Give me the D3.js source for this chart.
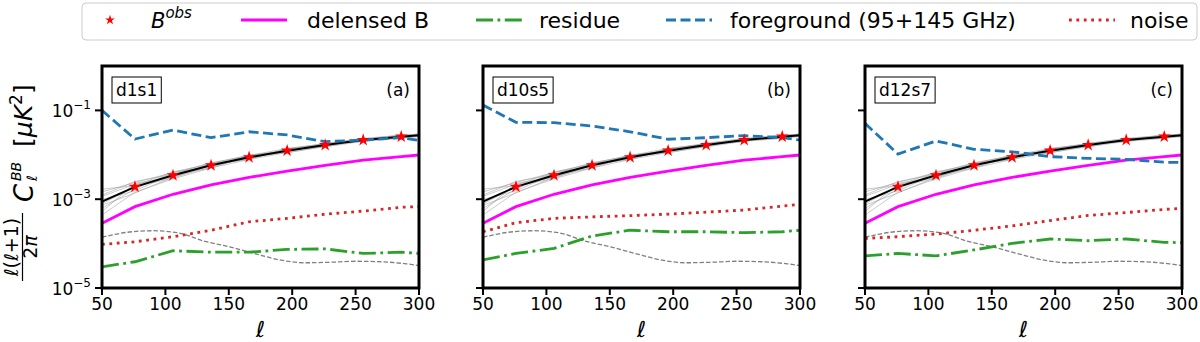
<!DOCTYPE html>
<html>
<head>
<meta charset="utf-8">
<script src="https://cdn.jsdelivr.net/npm/d3@7"></script>
<style>
  body { margin: 0; background: #fff; }
  svg { font-family: "DejaVu Sans", sans-serif; }
</style>
</head>
<body>
<svg id="chart"></svg>
<script>
// multipole points of the binned curves
const ells = [50, 76, 106, 136, 166, 196, 226, 256, 286, 300];
const binEll = [76, 106, 136, 166, 196, 226, 256, 286];

// shared across the three panels
const obsMean = [8.8e-4, 1.9e-3, 3.45e-3, 5.8e-3, 8.8e-3, 1.24e-2, 1.66e-2, 2.15e-2, 2.56e-2, 2.75e-2];
const bObs = [1.9e-3, 3.45e-3, 5.8e-3, 8.8e-3, 1.24e-2, 1.66e-2, 2.15e-2, 2.56e-2];
const delensed = [2.86e-4, 6.8e-4, 1.29e-3, 2.09e-3, 3.1e-3, 4.3e-3, 5.8e-3, 7.6e-3, 9.06e-3, 9.9e-3];

// thin grey dashed reference curve
const refEll = [50, 70, 90, 110, 130, 150, 170, 190, 210, 230, 250, 270, 290, 300];
const refVal = [1.39e-4, 1.8e-4, 1.95e-4, 1.75e-4, 1.15e-4, 8.5e-5, 6.0e-5, 4.3e-5, 3.7e-5, 3.8e-5, 4.0e-5, 3.9e-5, 3.5e-5, 3.2e-5];

// simulation realisations, read as offsets (dex) from the mean
const realOffsets = [
  [0.22, 0.10, 0.06, 0.05, 0.04, 0.05, 0.03, 0.04, 0.03, 0.03],
  [-0.30, -0.12, -0.08, -0.06, -0.05, -0.04, -0.04, -0.03, -0.04, -0.03],
  [0.12, 0.06, -0.05, 0.04, -0.03, 0.03, 0.02, -0.03, 0.02, 0.01],
  [-0.15, -0.05, 0.07, -0.03, 0.05, -0.03, 0.04, 0.03, -0.03, 0.02],
  [0.05, -0.09, 0.03, 0.06, 0.02, -0.05, -0.02, 0.02, 0.03, -0.03],
  [-0.22, 0.08, -0.03, -0.05, 0.03, 0.02, -0.03, 0.03, -0.02, 0.02],
  [0.28, 0.03, 0.08, 0.02, -0.05, 0.04, 0.03, -0.02, 0.01, 0.03],
  [-0.08, -0.14, -0.04, 0.03, 0.05, -0.02, 0.01, -0.03, 0.02, -0.02],
  [0.15, 0.12, 0.02, -0.06, 0.02, 0.01, -0.04, 0.01, 0.04, 0.01],
  [-0.05, 0.01, -0.07, 0.01, -0.04, 0.04, 0.02, -0.01, -0.03, -0.01]
];

// per panel
const panelNames = ["d1s1", "d10s5", "d12s7"];
const panelTags = ["(a)", "(b)", "(c)"];
const foreground = [
  [0.1, 0.0227, 0.036, 0.0243, 0.033, 0.028, 0.0198, 0.0215, 0.0245, 0.021],
  [0.132, 0.054, 0.053, 0.0446, 0.033, 0.0224, 0.0243, 0.027, 0.0243, 0.0215],
  [0.051, 0.0104, 0.0205, 0.0133, 0.0117, 0.0091, 0.0083, 0.0079, 0.0068, 0.0067]
];
const residue = [
  [3.0e-5, 3.9e-5, 6.9e-5, 6.4e-5, 6.4e-5, 7.4e-5, 7.6e-5, 6.0e-5, 6.4e-5, 6.0e-5],
  [4.3e-5, 6.0e-5, 7.8e-5, 1.48e-4, 2.0e-4, 1.85e-4, 1.85e-4, 1.76e-4, 1.85e-4, 2.0e-4],
  [5.3e-5, 6.0e-5, 5.3e-5, 7.2e-5, 1.01e-4, 1.27e-4, 1.16e-4, 1.27e-4, 1.07e-4, 1.05e-4]
];
const noise = [
  [9.6e-5, 1.1e-4, 1.43e-4, 2.0e-4, 3.1e-4, 3.7e-4, 4.6e-4, 5.4e-4, 6.6e-4, 6.8e-4],
  [1.85e-4, 2.95e-4, 3.7e-4, 4.0e-4, 4.27e-4, 4.6e-4, 5.1e-4, 5.7e-4, 7.0e-4, 7.7e-4],
  [1.31e-4, 1.43e-4, 1.64e-4, 2.0e-4, 2.5e-4, 3.3e-4, 4.3e-4, 5.0e-4, 5.9e-4, 6.2e-4]
];

const xTicks = [50, 100, 150, 200, 250, 300];
const yTicks = [1e-5, 1e-3, 1e-1];
const yTickExp = ["\u22125", "\u22123", "\u22121"];

const colors = {
  delensed: "#ff00ff", residue: "#2ca02c", foreground: "#1f77b4",
  noise: "#d62728", star: "#ff0000"
};
const dashes = { residue: "17,4.5,2.8,4.5", foreground: "10,4.5", noise: "2.8,4.6" };
const lw = 2.8;

const width = 1200, height = 342;
const svg = d3.select("#chart").attr("width", width).attr("height", height);

const panelLeft = [102, 483, 865];
const panelW = 317;
const plotTop = 66, plotBottom = 288;

const yScale = d3.scaleLog().domain([1e-5, 1]).range([plotBottom, plotTop]);

panelLeft.forEach((x0, p) => {
  const xScale = d3.scaleLinear().domain([50, 300]).range([x0, x0 + panelW]);
  const g = svg.append("g");

  g.append("clipPath").attr("id", "clip" + p)
    .append("rect").attr("x", x0).attr("y", plotTop).attr("width", panelW).attr("height", plotBottom - plotTop);
  const plot = g.append("g").attr("clip-path", `url(#clip${p})`);

  const line = d3.line().x((d, i) => xScale(ells[i])).y(d => yScale(d));

  // realisations
  realOffsets.forEach(off => {
    plot.append("path")
      .attr("d", line(obsMean.map((v, i) => v * Math.pow(10, off[i]))))
      .attr("fill", "none").attr("stroke", "#a0a0a0").attr("stroke-width", 1).attr("opacity", 0.55);
  });

  // grey reference curve
  plot.append("path")
    .attr("d", d3.line().curve(d3.curveMonotoneX)
      .x((d, i) => xScale(refEll[i])).y(d => yScale(d))(refVal))
    .attr("fill", "none").attr("stroke", "#808080").attr("stroke-width", 1.3)
    .attr("stroke-dasharray", "4.5,2");

  plot.append("path").attr("d", line(noise[p]))
    .attr("fill", "none").attr("stroke", colors.noise).attr("stroke-width", lw)
    .attr("stroke-dasharray", dashes.noise);
  plot.append("path").attr("d", line(residue[p]))
    .attr("fill", "none").attr("stroke", colors.residue).attr("stroke-width", lw)
    .attr("stroke-dasharray", dashes.residue);
  plot.append("path").attr("d", line(delensed))
    .attr("fill", "none").attr("stroke", colors.delensed).attr("stroke-width", lw);
  plot.append("path").attr("d", line(obsMean))
    .attr("fill", "none").attr("stroke", "#000").attr("stroke-width", 2);
  plot.append("path").attr("d", line(foreground[p]))
    .attr("fill", "none").attr("stroke", colors.foreground).attr("stroke-width", lw)
    .attr("stroke-dasharray", dashes.foreground);

  plot.selectAll(".star").data(bObs).join("path")
    .attr("transform", (d, i) => `translate(${xScale(binEll[i])},${yScale(d)})`)
    .attr("d", d3.symbol(d3.symbolStar, 50)())
    .attr("fill", colors.star);

  // frame
  g.append("rect").attr("x", x0).attr("y", plotTop).attr("width", panelW).attr("height", plotBottom - plotTop)
    .attr("fill", "none").attr("stroke", "#000").attr("stroke-width", 3);

  // x axis
  xTicks.forEach(t => {
    g.append("line").attr("x1", xScale(t)).attr("x2", xScale(t))
      .attr("y1", plotBottom).attr("y2", plotBottom + 7).attr("stroke", "#000").attr("stroke-width", 2);
    g.append("text").attr("x", xScale(t)).attr("y", 310).attr("text-anchor", "middle")
      .style("font-size", "17px").text(t);
  });
  g.append("text").attr("x", x0 + panelW / 2).attr("y", 337).attr("text-anchor", "middle")
    .style("font-size", "22px").style("font-style", "italic").text("\u2113");

  // y axis
  yTicks.forEach((t, i) => {
    g.append("line").attr("x1", x0 - 7).attr("x2", x0).attr("y1", yScale(t)).attr("y2", yScale(t))
      .attr("stroke", "#000").attr("stroke-width", 2);
    if (p === 0) {
      const lab = g.append("text").attr("x", 91).attr("y", yScale(t) + 7).attr("text-anchor", "end")
        .style("font-size", "17px");
      lab.append("tspan").text("10");
      lab.append("tspan").attr("dy", -8).style("font-size", "12px").text(yTickExp[i]);
    }
  });

  // panel labels
  const nameText = g.append("text").attr("x", x0 + 14).attr("y", 96)
    .style("font-size", "17px").text(panelNames[p]);
  const bb = nameText.node().getBBox();
  g.insert("rect", "text").attr("x", bb.x - 4).attr("y", 77).attr("width", bb.width + 8).attr("height", 26)
    .attr("fill", "#fff").attr("stroke", "#000").attr("stroke-width", 1);
  g.append("text").attr("x", x0 + panelW - 9).attr("y", 96).attr("text-anchor", "end")
    .style("font-size", "17px").text(panelTags[p]);
});

// y label (rotated): u runs up the page, v runs to the right
const yl = svg.append("g").attr("transform", "translate(33,181) rotate(-90)");
const num = yl.append("text").attr("x", -66).attr("y", -15).attr("text-anchor", "middle").style("font-size", "19px");
num.append("tspan").style("font-style", "italic").text("\u2113");
num.append("tspan").text("(");
num.append("tspan").style("font-style", "italic").text("\u2113");
num.append("tspan").text("+1)");
yl.append("line").attr("x1", -100).attr("x2", -32).attr("y1", -10.5).attr("y2", -10.5)
  .attr("stroke", "#000").attr("stroke-width", 1.2);
const den = yl.append("text").attr("x", -66).attr("y", 4).attr("text-anchor", "middle").style("font-size", "19px");
den.append("tspan").text("2");
den.append("tspan").style("font-style", "italic").text("\u03c0");
yl.append("text").attr("x", -21).attr("y", 0).style("font-size", "26px").style("font-style", "italic").text("C");
yl.append("text").attr("x", 0).attr("y", -12).style("font-size", "14px").style("font-style", "italic").text("BB");
yl.append("text").attr("x", 0).attr("y", 4).style("font-size", "14px").style("font-style", "italic").text("\u2113");
const unit = yl.append("text").attr("x", 34).attr("y", -1).style("font-size", "25px");
unit.append("tspan").text("[");
unit.append("tspan").style("font-style", "italic").text("\u03bcK");
unit.append("tspan").attr("dy", -10).style("font-size", "17px").text("2");
unit.append("tspan").attr("dy", 10).text("]");

// legend
const lg = svg.append("g");
lg.append("rect").attr("x", 82).attr("y", 3).attr("width", 1115).attr("height", 37).attr("rx", 4)
  .attr("fill", "#fff").attr("stroke", "#cccccc").attr("stroke-width", 1);
lg.append("path").attr("transform", "translate(110,20)")
  .attr("d", d3.symbol(d3.symbolStar, 30)()).attr("fill", colors.star);
const bl = lg.append("text").attr("x", 151).attr("y", 28).style("font-size", "21px").style("font-style", "italic");
bl.append("tspan").text("B");
bl.append("tspan").attr("dy", -10).style("font-size", "15px").text("obs");

const legendItems = [
  { x: 241, label: "delensed B", tx: 307, color: colors.delensed, dash: null },
  { x: 476, label: "residue", tx: 539, color: colors.residue, dash: dashes.residue },
  { x: 666, label: "foreground (95+145 GHz)", tx: 730, color: colors.foreground, dash: dashes.foreground },
  { x: 1069, label: "noise", tx: 1130, color: colors.noise, dash: dashes.noise }
];
legendItems.forEach(it => {
  lg.append("line").attr("x1", it.x).attr("x2", it.x + 46).attr("y1", 20).attr("y2", 20)
    .attr("stroke", it.color).attr("stroke-width", lw)
    .attr("stroke-dasharray", it.dash);
  lg.append("text").attr("x", it.tx).attr("y", 28).style("font-size", "22px").text(it.label);
});
</script>
</body>
</html>
